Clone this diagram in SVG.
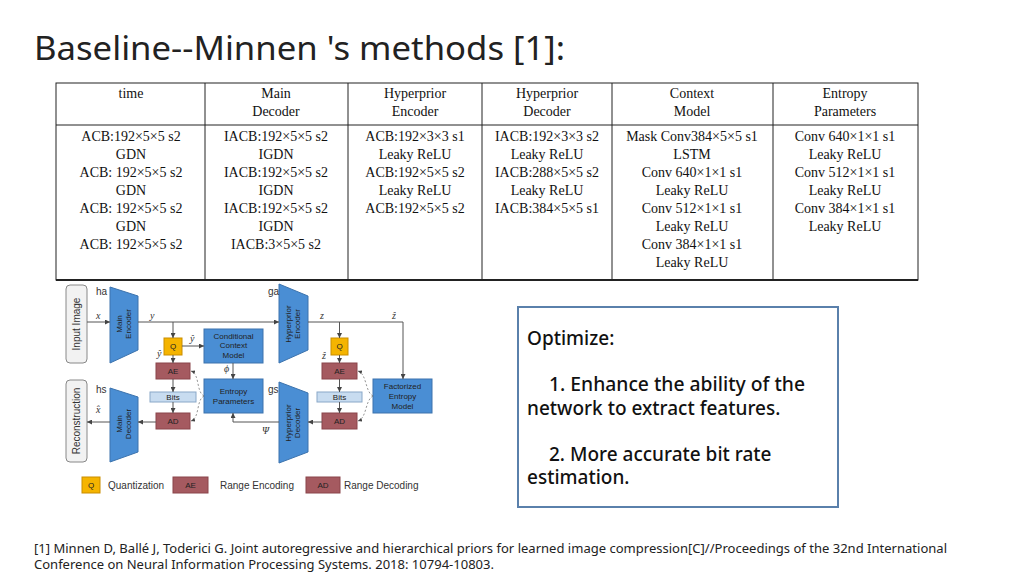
<svg xmlns="http://www.w3.org/2000/svg" width="1024" height="576" viewBox="0 0 1024 576">
<style>
.t{font-family:"Liberation Serif",serif;font-size:14px;fill:#111;text-anchor:middle}
.s{font-family:"Liberation Sans",Arial,sans-serif;font-size:8px;fill:#222;text-anchor:middle}
.lb{font-family:"Liberation Sans",Arial,sans-serif;font-size:10px;fill:#333}
.m{font-family:"Liberation Serif",serif;font-style:italic;font-size:10px;fill:#333}
.blue{fill:#4a8ed4;stroke:#3c73ad;stroke-width:1}
.red{fill:#a55a60;stroke:#8a454a;stroke-width:1}
.yel{fill:#f5b400;stroke:#c98d00;stroke-width:1}
.bits{fill:#c8dcf0;stroke:#8aa8c8;stroke-width:1}
.gray{fill:#f2f2f2;stroke:#888;stroke-width:1}
.ln{stroke:#555;stroke-width:1;fill:none}
.dash{stroke:#777;stroke-width:0.8;fill:none;stroke-dasharray:2,2}
.o{font-family:"Noto Sans","Liberation Sans",sans-serif;font-size:19px;fill:#111;font-weight:500}
</style>
<defs><marker id="a" viewBox="0 0 6 6" refX="6" refY="3" markerWidth="5" markerHeight="5" orient="auto"><path d="M0,0L6,3L0,6z" fill="#444"/></marker></defs>
<rect width="1024" height="576" fill="#fff"/>
<text x="34" y="60" font-family="Noto Sans,Liberation Sans,sans-serif" font-size="33" fill="#222" textLength="531" lengthAdjust="spacingAndGlyphs">Baseline--Minnen 's methods [1]:</text>
<g id="table">
<rect x="56" y="83" width="862" height="197" fill="none" stroke="#222" stroke-width="1"/>
<line x1="56" y1="125" x2="918" y2="125" stroke="#222"/>
<line x1="56" y1="280" x2="918" y2="280" stroke="#222" stroke-width="2"/>
<g stroke="#222"><line x1="205" y1="83" x2="205" y2="280"/><line x1="348" y1="83" x2="348" y2="280"/><line x1="482" y1="83" x2="482" y2="280"/><line x1="612" y1="83" x2="612" y2="280"/><line x1="773" y1="83" x2="773" y2="280"/></g>
<text class="t" x="131" y="98">time</text>
<text class="t" x="276" y="98">Main</text><text class="t" x="276" y="116">Decoder</text>
<text class="t" x="415" y="98">Hyperprior</text><text class="t" x="415" y="116">Encoder</text>
<text class="t" x="547" y="98">Hyperprior</text><text class="t" x="547" y="116">Decoder</text>
<text class="t" x="692" y="98">Context</text><text class="t" x="692" y="116">Model</text>
<text class="t" x="845" y="98">Entropy</text><text class="t" x="845" y="116">Parameters</text>
<g class="t">
<text x="131" y="141">ACB:192×5×5 s2</text><text x="131" y="159">GDN</text><text x="131" y="177">ACB: 192×5×5 s2</text><text x="131" y="195">GDN</text><text x="131" y="213">ACB: 192×5×5 s2</text><text x="131" y="231">GDN</text><text x="131" y="249">ACB: 192×5×5 s2</text>
<text x="276" y="141">IACB:192×5×5 s2</text><text x="276" y="159">IGDN</text><text x="276" y="177">IACB:192×5×5 s2</text><text x="276" y="195">IGDN</text><text x="276" y="213">IACB:192×5×5 s2</text><text x="276" y="231">IGDN</text><text x="276" y="249">IACB:3×5×5 s2</text>
<text x="415" y="141">ACB:192×3×3 s1</text><text x="415" y="159">Leaky ReLU</text><text x="415" y="177">ACB:192×5×5 s2</text><text x="415" y="195">Leaky ReLU</text><text x="415" y="213">ACB:192×5×5 s2</text>
<text x="547" y="141">IACB:192×3×3 s2</text><text x="547" y="159">Leaky ReLU</text><text x="547" y="177">IACB:288×5×5 s2</text><text x="547" y="195">Leaky ReLU</text><text x="547" y="213">IACB:384×5×5 s1</text>
<text x="692" y="141">Mask Conv384×5×5 s1</text><text x="692" y="159">LSTM</text><text x="692" y="177">Conv 640×1×1 s1</text><text x="692" y="195">Leaky ReLU</text><text x="692" y="213">Conv 512×1×1 s1</text><text x="692" y="231">Leaky ReLU</text><text x="692" y="249">Conv 384×1×1 s1</text><text x="692" y="267">Leaky ReLU</text>
<text x="845" y="141">Conv 640×1×1 s1</text><text x="845" y="159">Leaky ReLU</text><text x="845" y="177">Conv 512×1×1 s1</text><text x="845" y="195">Leaky ReLU</text><text x="845" y="213">Conv 384×1×1 s1</text><text x="845" y="231">Leaky ReLU</text>
</g>
</g>
<g id="input"><rect class="gray" x="66" y="285" width="21" height="78" rx="4"/><text class="lb" transform="translate(80,324) rotate(-90)" text-anchor="middle" font-size="11">Input Image</text></g>
<g id="recon"><rect class="gray" x="66" y="380" width="21" height="82" rx="4"/><text class="lb" transform="translate(80,421) rotate(-90)" text-anchor="middle" font-size="11">Reconstruction</text></g>
<g id="mainenc"><path class="blue" d="M110,287L138,296L138,350L110,363z"/><text class="s" transform="translate(122,324) rotate(-90)">Main</text><text class="s" transform="translate(131,324) rotate(-90)">Encoder</text></g>
<g id="maindec"><path class="blue" d="M110,388L138,397L138,452L110,462z"/><text class="s" transform="translate(122,424) rotate(-90)">Main</text><text class="s" transform="translate(131,424) rotate(-90)">Decoder</text></g>
<g id="hypenc"><path class="blue" d="M279,284L308,296L308,350L279,363z"/><text class="s" transform="translate(291,324) rotate(-90)">Hyperprior</text><text class="s" transform="translate(300,324) rotate(-90)">Encoder</text></g>
<g id="hypdec"><path class="blue" d="M279,382L308,393L308,452L279,463z"/><text class="s" transform="translate(291,423) rotate(-90)">Hyperprior</text><text class="s" transform="translate(300,423) rotate(-90)">Decoder</text></g>
<g id="q1"><rect class="yel" x="164" y="338" width="18" height="17"/><text class="s" x="173" y="349">Q</text></g>
<g id="ccm"><rect class="blue" x="204" y="329" width="59" height="34"/><text class="s" x="233.5" y="339">Conditional</text><text class="s" x="233.5" y="348">Context</text><text class="s" x="233.5" y="358">Model</text></g>
<g id="ae1"><rect class="red" x="156" y="363" width="34" height="16"/><text class="s" x="173" y="374">AE</text></g>
<g id="bits1"><rect class="bits" x="150" y="392" width="46" height="10"/><text class="s" x="173" y="400">Bits</text></g>
<g id="ad1"><rect class="red" x="156" y="413" width="34" height="16"/><text class="s" x="173" y="424">AD</text></g>
<g id="ep"><rect class="blue" x="204" y="379" width="59" height="34"/><text class="s" x="233.5" y="394">Entropy</text><text class="s" x="233.5" y="404">Parameters</text></g>
<g id="q2"><rect class="yel" x="331" y="338" width="17" height="17"/><text class="s" x="339.5" y="349">Q</text></g>
<g id="ae2"><rect class="red" x="322" y="363" width="35" height="16"/><text class="s" x="339.5" y="374">AE</text></g>
<g id="bits2"><rect class="bits" x="317" y="392" width="45" height="10"/><text class="s" x="339.5" y="400">Bits</text></g>
<g id="ad2"><rect class="red" x="322" y="413" width="35" height="16"/><text class="s" x="339.5" y="424">AD</text></g>
<g id="fem"><rect class="blue" x="373" y="379" width="59" height="34"/><text class="s" x="402.5" y="389">Factorized</text><text class="s" x="402.5" y="399">Entropy</text><text class="s" x="402.5" y="409">Model</text></g>
<g id="connectors">
<path class="ln" d="M87,322H110" marker-end="url(#a)"/>
<path class="ln" d="M138,322H279" marker-end="url(#a)"/>
<path class="ln" d="M173,322V338" marker-end="url(#a)"/>
<path class="ln" d="M173,355V363" marker-end="url(#a)"/>
<path class="ln" d="M173,379V392" marker-end="url(#a)"/>
<path class="ln" d="M173,402V413" marker-end="url(#a)"/>
<path class="ln" d="M182,346H204" marker-end="url(#a)"/>
<path class="ln" d="M233,363V379" marker-end="url(#a)"/>
<path class="ln" d="M156,422H138" marker-end="url(#a)"/>
<path class="ln" d="M110,422H87" marker-end="url(#a)"/>
<path class="ln" d="M279,422H233V413" marker-end="url(#a)"/>
<path class="ln" d="M308,322H403V379" marker-end="url(#a)"/>
<path class="ln" d="M339.5,322V338" marker-end="url(#a)"/>
<path class="ln" d="M339.5,355V363" marker-end="url(#a)"/>
<path class="ln" d="M339.5,379V392" marker-end="url(#a)"/>
<path class="ln" d="M339.5,402V413" marker-end="url(#a)"/>
<path class="ln" d="M322,422H308" marker-end="url(#a)"/>
<path class="dash" d="M204,396C196,392 200,374 191,371" marker-end="url(#a)"/>
<path class="dash" d="M204,396C196,400 200,418 191,421" marker-end="url(#a)"/>
<path class="dash" d="M373,396C365,392 367,374 358,371" marker-end="url(#a)"/>
<path class="dash" d="M373,396C365,400 367,418 358,421" marker-end="url(#a)"/>
</g>
<g id="labels">
<text class="lb" x="96" y="295">ha</text><text class="lb" x="96" y="393">hs</text><text class="lb" x="268" y="295">ga</text><text class="lb" x="268" y="393">gs</text>
<text class="m" x="96" y="319">x</text><text class="m" x="150" y="319">y</text><text class="m" x="96" y="413">x̂</text>
<text class="m" x="157" y="357">ŷ</text><text class="m" x="190" y="342">ŷ</text><text class="m" x="224" y="372">ϕ</text><text class="m" x="262" y="434">Ψ</text>
<text class="m" x="320" y="319">z</text><text class="m" x="392" y="319">ẑ</text><text class="m" x="322" y="359">ẑ</text>
</g>
<g id="legend">
<rect class="yel" x="82" y="477" width="18" height="16"/><text class="s" x="91" y="488">Q</text><text class="lb" x="108" y="489">Quantization</text>
<rect class="red" x="173" y="477" width="35" height="16"/><text class="s" x="190.5" y="488">AE</text><text class="lb" x="220" y="489">Range Encoding</text>
<rect class="red" x="306" y="477" width="34" height="16"/><text class="s" x="323" y="488">AD</text><text class="lb" x="344" y="489">Range Decoding</text>
</g>
<g id="optimize">
<rect x="518" y="307" width="320" height="200" fill="#fff" stroke="#5a80ab" stroke-width="2"/>
<text class="o" x="527" y="345">Optimize:</text>
<text class="o" x="549" y="391" textLength="256" lengthAdjust="spacingAndGlyphs">1. Enhance the ability of the</text>
<text class="o" x="527" y="415">network to extract features.</text>
<text class="o" x="549" y="461">2. More accurate bit rate</text>
<text class="o" x="527" y="484">estimation.</text>
</g>
<g font-family="Noto Sans,Liberation Sans,sans-serif" font-size="12.5" fill="#222">
<text x="34" y="553" textLength="913" lengthAdjust="spacingAndGlyphs">[1] Minnen D, Ballé J, Toderici G. Joint autoregressive and hierarchical priors for learned image compression[C]//Proceedings of the 32nd International</text>
<text x="34" y="569" textLength="460" lengthAdjust="spacingAndGlyphs">Conference on Neural Information Processing Systems. 2018: 10794-10803.</text>
</g>
</svg>
